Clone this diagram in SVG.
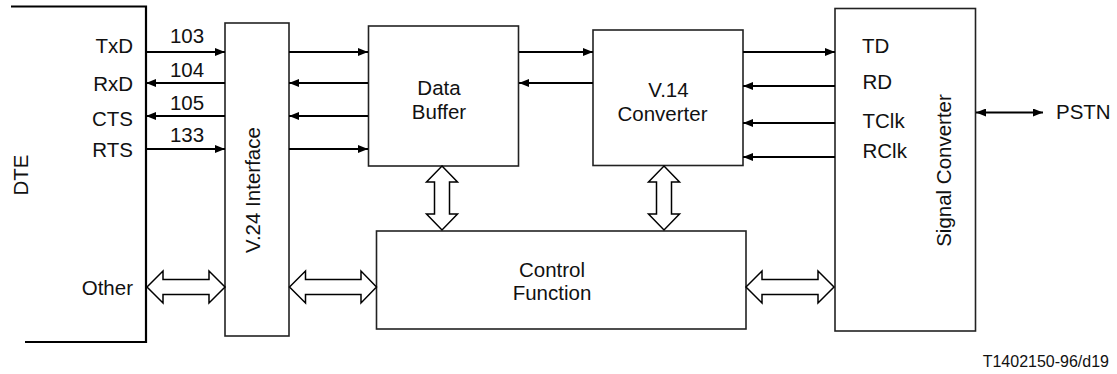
<svg xmlns="http://www.w3.org/2000/svg" width="1117" height="374" viewBox="0 0 1117 374">
  <defs>
    <marker id="ah" viewBox="0 0 10 8" refX="10" refY="4" markerWidth="10" markerHeight="8" markerUnits="userSpaceOnUse" orient="auto-start-reverse">
      <path d="M0,0 L10,4 L0,8 Z" fill="#000"/>
    </marker>
    <style>
      .box { fill: #fff; stroke: #222; stroke-width: 1.6; }
      .edge { fill: none; stroke: #000; stroke-width: 2.2; }
      .sig { fill: none; stroke: #000; stroke-width: 2; }
      .bus { fill: #fff; stroke: #000; stroke-width: 1.5; stroke-linejoin: miter; }
      text { font-family: "Liberation Sans", Arial, sans-serif; font-size: 20.5px; fill: #111; }
      .small { font-size: 16px; }
    </style>
  </defs>

  <!-- DTE side (open frame) -->
  <g id="dte">
    <path class="edge" d="M11,6.5 H146 V342 H25"/>
    <text transform="translate(28.3,175) rotate(-90)" text-anchor="middle">DTE</text>
    <text x="133" y="53" text-anchor="end">TxD</text>
    <text x="133" y="90.5" text-anchor="end">RxD</text>
    <text x="133" y="126" text-anchor="end">CTS</text>
    <text x="133" y="156.5" text-anchor="end">RTS</text>
    <text x="133" y="295" text-anchor="end">Other</text>
  </g>

  <!-- V.24 interface -->
  <g id="v24">
    <rect class="box" x="225" y="23" width="64" height="313"/>
    <text transform="translate(260,190) rotate(-90)" text-anchor="middle">V.24 Interface</text>
  </g>

  <!-- Data buffer -->
  <g id="buffer">
    <rect class="box" x="368.5" y="26" width="150" height="140"/>
    <text x="439" y="95" text-anchor="middle">Data</text>
    <text x="439" y="119" text-anchor="middle">Buffer</text>
  </g>

  <!-- V.14 converter -->
  <g id="v14">
    <rect class="box" x="593" y="30" width="150" height="135.5"/>
    <text x="668.5" y="96.5" text-anchor="middle">V.14</text>
    <text x="662.5" y="120.5" text-anchor="middle">Converter</text>
  </g>

  <!-- Control function -->
  <g id="control">
    <rect class="box" x="376.5" y="231" width="369.5" height="98"/>
    <text x="552" y="277" text-anchor="middle">Control</text>
    <text x="552" y="300" text-anchor="middle">Function</text>
  </g>

  <!-- Signal converter -->
  <g id="signal">
    <rect class="box" x="835" y="8.5" width="140.5" height="322.5"/>
    <text transform="translate(950.5,170.5) rotate(-90)" text-anchor="middle">Signal Converter</text>
    <text x="862" y="53">TD</text>
    <text x="862.5" y="89">RD</text>
    <text x="862.5" y="128">TClk</text>
    <text x="862.5" y="158">RClk</text>
  </g>

  <!-- Network -->
  <g id="pstn">
    <text x="1056" y="119">PSTN</text>
  </g>

  <!-- Connectors -->
  <g id="connectors">
    <!-- DTE <-> V.24 circuits -->
    <line class="sig" x1="146" y1="52" x2="225" y2="52" marker-end="url(#ah)"/>
    <line class="sig" x1="146" y1="83" x2="225" y2="83" marker-start="url(#ah)"/>
    <line class="sig" x1="146" y1="116" x2="225" y2="116" marker-start="url(#ah)"/>
    <line class="sig" x1="146" y1="149" x2="225" y2="149" marker-end="url(#ah)"/>
    <text x="187" y="42.5" text-anchor="middle">103</text>
    <text x="187" y="77" text-anchor="middle">104</text>
    <text x="187" y="110" text-anchor="middle">105</text>
    <text x="187" y="141.5" text-anchor="middle">133</text>

    <!-- V.24 <-> buffer -->
    <line class="sig" x1="289" y1="52" x2="368" y2="52" marker-end="url(#ah)"/>
    <line class="sig" x1="289" y1="83" x2="368" y2="83" marker-start="url(#ah)"/>
    <line class="sig" x1="289" y1="116" x2="368" y2="116" marker-start="url(#ah)"/>
    <line class="sig" x1="289" y1="149" x2="368" y2="149" marker-end="url(#ah)"/>

    <!-- buffer <-> V.14 -->
    <line class="sig" x1="519" y1="52" x2="593" y2="52" marker-end="url(#ah)"/>
    <line class="sig" x1="519" y1="83" x2="593" y2="83" marker-start="url(#ah)"/>

    <!-- V.14 <-> signal converter -->
    <line class="sig" x1="743" y1="52" x2="835" y2="52" marker-end="url(#ah)"/>
    <line class="sig" x1="743" y1="86" x2="835" y2="86" marker-start="url(#ah)"/>
    <line class="sig" x1="743" y1="123" x2="835" y2="123" marker-start="url(#ah)"/>
    <line class="sig" x1="743" y1="157" x2="835" y2="157" marker-start="url(#ah)"/>

    <!-- line interface -->
    <line class="sig" x1="976" y1="112.5" x2="1043" y2="112.5" marker-start="url(#ah)" marker-end="url(#ah)"/>

    <!-- hollow bus arrows -->
    <polygon class="bus" points="147,287 163,271 163,279.5 209,279.5 209,271 225,287 209,303 209,294.5 163,294.5 163,303"/>
    <polygon class="bus" points="289.5,287 305.5,271 305.5,279.5 361,279.5 361,271 376.5,287 361,303 361,294.5 305.5,294.5 305.5,303"/>
    <polygon class="bus" points="746,287 762,271 762,279.5 818,279.5 818,271 834,287 818,303 818,294.5 762,294.5 762,303"/>
    <polygon class="bus" points="442,166 457.5,182 449.5,182 449.5,214 457.5,214 442,230 426.5,214 434.5,214 434.5,182 426.5,182"/>
    <polygon class="bus" points="664,166 679.5,182 671.5,182 671.5,214 679.5,214 664,230 648.5,214 656.5,214 656.5,182 648.5,182"/>
  </g>

  <text class="small" x="1109" y="367" text-anchor="end">T1402150-96/d19</text>
</svg>
